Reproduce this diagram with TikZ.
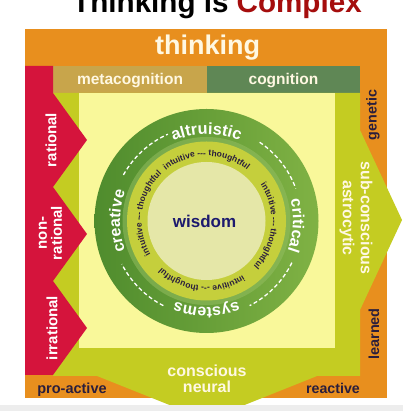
\documentclass[tikz,border=0pt]{standalone}
\usepackage{fontspec}
\setmainfont{Liberation Sans}
\usetikzlibrary{decorations.text}

\definecolor{frameorange}{HTML}{E88F1E}
\definecolor{ragered}{HTML}{D5143C}
\definecolor{metatan}{HTML}{C8A54B}
\definecolor{cogngreen}{HTML}{5F8755}
\definecolor{leafyellow}{HTML}{C4CC22}
\definecolor{paleyellow}{HTML}{F9F89A}
\definecolor{ringdark}{HTML}{4F8C2D}
\definecolor{ringlight}{HTML}{80B244}
\definecolor{innerring}{HTML}{C5CF3C}
\definecolor{coredisk}{HTML}{E5E7A8}
\definecolor{titlered}{HTML}{A50D0D}
\definecolor{cream}{HTML}{FFF8E2}
\definecolor{inkdark}{HTML}{2A1E3C}
\definecolor{wisdomblue}{HTML}{1C1A6E}

% text laid along an arc around the circle centre, read clockwise
\newcommand\arclabel[6]{%
  \path[decorate, decoration={text along path, text align=center,
      text color=#5, text={|\bfseries\fontsize{#6}{#6}\selectfont|#1}}]
    (hub) ++(#2:#4) arc[start angle=#2, end angle=#3, radius=#4];}

\begin{document}
\begin{tikzpicture}[x=1pt,y=1pt,
  lbl/.style={font=\bfseries\fontsize{#1}{#1}\selectfont, inner sep=0pt},
  lbl/.default=15,
  dashring/.style={white, line width=1.3pt, dash pattern=on 4pt off 2.6pt}]

\useasboundingbox (0,0) rectangle (403,411);
\fill[white] (0,0) rectangle (403,411);

% outer frame and the two top bands
\fill[frameorange] (25,13) rectangle (387,382);
\fill[metatan] (53,318) rectangle (207,345);
\fill[cogngreen] (207,318) rectangle (360,345);

% yellow-green field with its right and bottom arrows
\fill[leafyellow] (53,318) -- (360,318) -- (360,281) -- (402,191) -- (360,101)
  -- (360,35) -- (317,35) -- (207,-9) -- (97,35) -- (53,35) -- cycle;

% pale inner square
\fill[paleyellow] (79,63) rectangle (335,318);

% red zigzag column on the left
\fill[ragered] (25,345) -- (53,345) -- (53,318) -- (87,271) -- (53,224)
  -- (87,177) -- (53,130) -- (87,83) -- (53,36) -- (25,36) -- cycle;

% concentric rings
\coordinate (hub) at (206.5,190);
\shade[left color=ringdark, right color=ringlight] (hub) circle[radius=112];
\fill[ringlight!85!white, opacity=0.55] (hub) circle[radius=84];
\fill[innerring] (hub) circle[radius=79.5];
\fill[coredisk] (hub) circle[radius=59];

% dashed separators on the outer ring
\draw[dashring] (hub) ++(151:95) arc[start angle=151, end angle=114, radius=95];
\draw[dashring] (hub) ++(56:95) arc[start angle=56, end angle=20, radius=95];
\draw[dashring] (hub) ++(-26:95) arc[start angle=-26, end angle=-63, radius=95];
\draw[dashring] (hub) ++(-117:95) arc[start angle=-117, end angle=-153, radius=95];

% outer ring words
\arclabel{altruistic}{130}{50}{86.5}{white}{16.3}
\arclabel{critical}{37}{-43}{86.5}{white}{16}
\arclabel{systems}{-50}{-130}{86.5}{white}{16}
\arclabel{creative}{220}{140}{86.5}{white}{16}

% inner ring words
\arclabel{intuitive --- thoughtful}{150}{30}{65}{inkdark}{8.5}
\arclabel{intuitive --- thoughtful}{55}{-65}{65}{inkdark}{8.5}
\arclabel{intuitive --- thoughtful}{-35}{-155}{65}{inkdark}{8.5}
\arclabel{intuitive --- thoughtful}{232}{112}{65}{inkdark}{8.5}

\node[lbl=17, text=wisdomblue, anchor=base] (wisdom) at (204.5,183) {wisdom};

% title and band labels
\node[lbl=29.6, anchor=base] (title) at (217,398.3)
  {Thinking is \textcolor{titlered}{Complex}};
\node[lbl=27, text=cream, anchor=base] (thinking) at (207.5,356) {thinking};
\node[lbl=15.5, text=cream, anchor=base] (meta) at (130,326) {metacognition};
\node[lbl=15.5, text=cream, anchor=base] (cogn) at (283.5,326) {cognition};

% left column labels
\node[lbl=15, text=white, rotate=90] (rational) at (51,271) {rational};
\node[lbl=15, text=white, rotate=90, align=center] (nonrational) at (50.5,178) {non-\\rational};
\node[lbl=15, text=white, rotate=90] (irrational) at (52,83) {irrational};

% right column labels
\node[lbl=14.3, text=inkdark, rotate=90] (genetic) at (373,296) {genetic};
\node[lbl=14.5, text=inkdark, rotate=90] (learned) at (374,77) {learned};
\node[font=\bfseries\fontsize{16}{18}\selectfont, inner sep=0pt, text=cream,
  rotate=-90, align=center] (subcon) at (356,193) {sub-conscious\\astrocytic};

% bottom labels
\node[lbl=14.5, text=inkdark, anchor=base] (proactive) at (72,17) {pro-active};
\node[lbl=14.2, text=inkdark, anchor=base] (reactive) at (333,17) {reactive};
\node[lbl=16, text=cream, anchor=base] (conscious) at (207,34) {conscious};
\node[lbl=16, text=cream, anchor=base] (neural) at (207,18) {neural};

% page foot strip
\fill[black!7] (0,0) rectangle (403,5.5);
\end{tikzpicture}
\end{document}
